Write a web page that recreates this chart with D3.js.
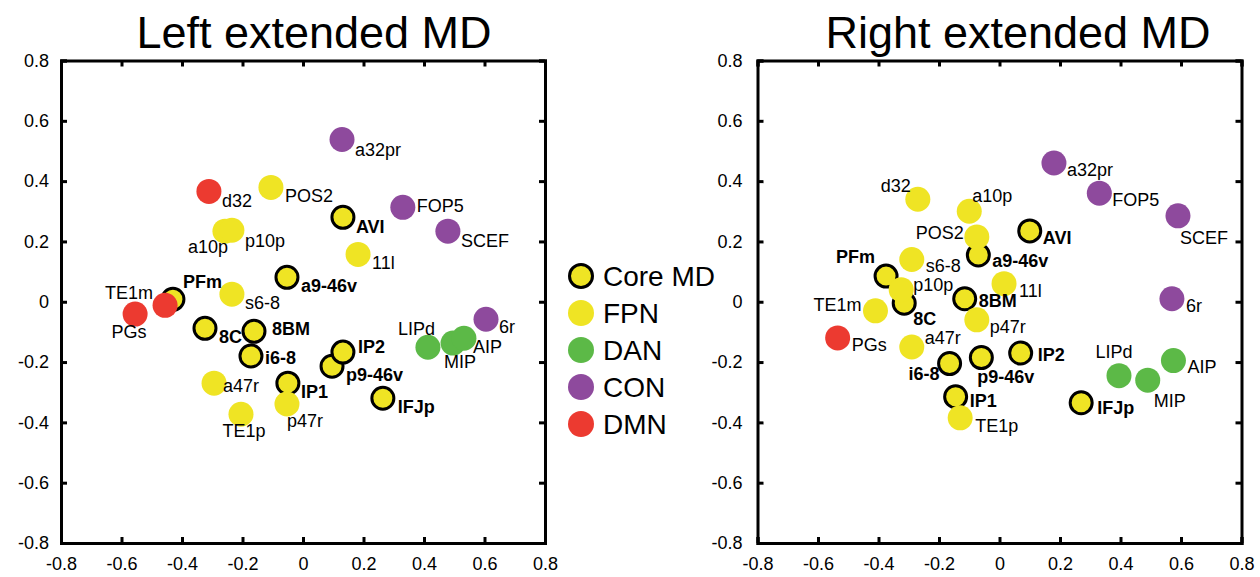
<!DOCTYPE html>
<html>
<head>
<meta charset="utf-8">
<script src="https://cdn.jsdelivr.net/npm/d3@7"></script>
<style>
  body { margin: 0; background: #fff; }
  text { font-family: "Liberation Sans", Arial, sans-serif; }
</style>
</head>
<body>
<div class="canvas"></div>
<script>
// region names, core MD first so the network dots sit on top of them
const regions = [
  "AVI", "a9-46v", "PFm", "8C", "8BM", "i6-8", "p9-46v", "IP2", "IP1", "IFJp",
  "a32pr", "d32", "POS2", "FOP5", "SCEF", "a10p", "p10p", "11l", "s6-8",
  "TE1m", "PGs", "LIPd", "MIP", "AIP", "6r", "a47r", "p47r", "TE1p"
];

const leftNetwork = [
  "Core MD", "Core MD", "Core MD", "Core MD", "Core MD", "Core MD", "Core MD", "Core MD", "Core MD", "Core MD",
  "CON", "DMN", "FPN", "CON", "CON", "FPN", "FPN", "FPN", "FPN",
  "DMN", "DMN", "DAN", "DAN", "DAN", "CON", "FPN", "FPN", "FPN"
];
const rightNetwork = [
  "Core MD", "Core MD", "Core MD", "Core MD", "Core MD", "Core MD", "Core MD", "Core MD", "Core MD", "Core MD",
  "CON", "FPN", "FPN", "CON", "CON", "FPN", "FPN", "FPN", "FPN",
  "FPN", "DMN", "DAN", "DAN", "DAN", "CON", "FPN", "FPN", "FPN"
];

const leftX = [
  0.132, -0.053, -0.43, -0.324, -0.162, -0.172, 0.096, 0.132, -0.05, 0.264,
  0.129, -0.311, -0.106, 0.33, 0.479, -0.258, -0.235, 0.182, -0.235,
  -0.456, -0.555, 0.413, 0.496, 0.532, 0.605, -0.294, -0.053, -0.205
];
const leftY = [
  0.28, 0.081, 0.008, -0.088, -0.098, -0.18, -0.214, -0.167, -0.27, -0.32,
  0.538, 0.366, 0.379, 0.313, 0.234, 0.234, 0.237, 0.157, 0.025,
  -0.012, -0.041, -0.151, -0.137, -0.121, -0.058, -0.27, -0.339, -0.373
];

const rightX = [
  0.10, -0.07, -0.375, -0.315, -0.115, -0.165, -0.06, 0.07, -0.145, 0.27,
  0.18, -0.27, -0.075, 0.33, 0.59, -0.10, -0.325, 0.015, -0.29,
  -0.41, -0.535, 0.395, 0.49, 0.575, 0.57, -0.29, -0.075, -0.13
];
const rightY = [
  0.235, 0.155, 0.085, -0.005, 0.01, -0.205, -0.185, -0.17, -0.315, -0.335,
  0.46, 0.34, 0.215, 0.36, 0.285, 0.30, 0.04, 0.06, 0.14,
  -0.03, -0.12, -0.245, -0.26, -0.195, 0.01, -0.15, -0.06, -0.385
];

const networks = ["Core MD", "FPN", "DAN", "CON", "DMN"];
const networkColors = ["#efe424", "#efe424", "#5cb947", "#8e4a9d", "#ec3a30"];
const tickValues = [-0.8, -0.6, -0.4, -0.2, 0, 0.2, 0.4, 0.6, 0.8];

// label placement: [anchor, dx, dy] from the dot centre
const leftLabelPos = {
  "a32pr": ["start", 13, 16], "d32": ["start", 13, 16], "POS2": ["start", 14, 15],
  "AVI": ["start", 13, 16], "FOP5": ["start", 14, 5], "SCEF": ["start", 13, 16],
  "a10p": ["end", 3, 22], "p10p": ["start", 13, 17], "11l": ["start", 14, 15],
  "a9-46v": ["start", 14, 15], "s6-8": ["start", 13, 15], "PFm": ["start", 10, -11],
  "TE1m": ["end", -12, -6], "PGs": ["middle", -6, 24], "8C": ["start", 14, 15],
  "8BM": ["start", 18, 4], "i6-8": ["start", 14, 8], "IP2": ["start", 15, 1],
  "p9-46v": ["start", 14, 15], "a47r": ["start", 9, 9], "IP1": ["start", 13, 15],
  "p47r": ["start", 0, 23], "TE1p": ["middle", 3, 23], "IFJp": ["start", 15, 15],
  "LIPd": ["end", 7, -12], "MIP": ["middle", 7, 25], "AIP": ["start", 9, 15],
  "6r": ["start", 13, 14]
};
const rightLabelPos = {
  "a32pr": ["start", 13, 13], "d32": ["end", -7, -7], "a10p": ["start", 3, -9],
  "POS2": ["end", -13, 2], "FOP5": ["start", 13, 13], "SCEF": ["start", 2, 28],
  "AVI": ["start", 13, 13], "a9-46v": ["start", 14, 12], "s6-8": ["start", 14, 12],
  "PFm": ["end", -11, -13], "p10p": ["start", 12, 1], "8C": ["start", 9, 22],
  "11l": ["start", 15, 13], "8BM": ["start", 14, 8], "TE1m": ["end", -14, 0],
  "6r": ["start", 14, 13], "p47r": ["start", 13, 13], "PGs": ["start", 14, 13],
  "a47r": ["start", 13, -3], "IP2": ["start", 17, 8], "p9-46v": ["start", -4, 25],
  "i6-8": ["end", -10, 16], "LIPd": ["middle", -5, -18], "MIP": ["start", 6, 27],
  "AIP": ["start", 14, 12], "IP1": ["start", 14, 10], "TE1p": ["start", 15, 14],
  "IFJp": ["start", 16, 11]
};

const width = 1260;
const height = 577;

const svg = d3
  .select(".canvas")
  .append("svg")
  .attr("width", width)
  .attr("height", height);

const color = d3.scaleOrdinal().domain(networks).range(networkColors);
const fmt = (d) => (d === 0 ? "0" : d3.format(".1f")(d).replace("\u2212", "-"));

function drawPanel(p) {
  const x = d3.scaleLinear().domain([-0.8, 0.8]).range([p.x0, p.x1]);
  const y = d3.scaleLinear().domain([-0.8, 0.8]).range([p.y1, p.y0]);

  const g = svg.append("g");

  g.append("text")
    .attr("x", p.titleX)
    .attr("y", 48)
    .attr("text-anchor", "middle")
    .attr("fill", "black")
    .style("font-size", "45px")
    .text(p.title);

  const bottom = g.append("g")
    .attr("transform", `translate(0, ${p.y1})`)
    .call(d3.axisBottom(x).tickValues(tickValues).tickSize(-6).tickPadding(14).tickFormat(fmt));

  const top = g.append("g")
    .attr("transform", `translate(0, ${p.y0})`)
    .call(d3.axisTop(x).tickValues(tickValues).tickSize(-6).tickFormat(""));

  const left = g.append("g")
    .attr("transform", `translate(${p.x0}, 0)`)
    .call(d3.axisLeft(y).tickValues(tickValues).tickSize(-6).tickPadding(p.yPad).tickFormat(fmt));

  const right = g.append("g")
    .attr("transform", `translate(${p.x1}, 0)`)
    .call(d3.axisRight(y).tickValues(tickValues).tickSize(-6).tickFormat(""));

  [bottom, top, left, right].forEach((a) => {
    a.select(".domain").attr("stroke", "black").attr("stroke-width", 3);
    a.selectAll(".tick line").attr("stroke", "black").attr("stroke-width", 3);
    a.selectAll(".tick text")
      .attr("fill", "black")
      .style("font-size", "18px")
      .style("font-family", '"Liberation Sans", Arial, sans-serif');
  });

  const data = regions.map((name, i) => ({
    name: name,
    net: p.net[i],
    x: p.xs[i],
    y: p.ys[i],
  }));

  g.append("g")
    .selectAll("circle")
    .data(data)
    .enter()
    .append("circle")
    .attr("cx", (d) => x(d.x))
    .attr("cy", (d) => y(d.y))
    .attr("r", (d) => (d.net === "Core MD" ? 11 : 12.5))
    .attr("fill", (d) => color(d.net))
    .attr("stroke", (d) => (d.net === "Core MD" ? "black" : "none"))
    .attr("stroke-width", 3);

  g.append("g")
    .selectAll("text")
    .data(data)
    .enter()
    .append("text")
    .attr("x", (d) => x(d.x) + p.labels[d.name][1])
    .attr("y", (d) => y(d.y) + p.labels[d.name][2])
    .attr("text-anchor", (d) => p.labels[d.name][0])
    .attr("fill", "black")
    .style("font-size", "18px")
    .style("font-weight", (d) => (d.net === "Core MD" ? "bold" : "normal"))
    .text((d) => d.name);
}

drawPanel({
  title: "Left extended MD", titleX: 314,
  x0: 61, x1: 545, y0: 60.5, y1: 543, yPad: 12,
  net: leftNetwork, xs: leftX, ys: leftY, labels: leftLabelPos,
});

drawPanel({
  title: "Right extended MD", titleX: 1018,
  x0: 757.5, x1: 1241.5, y0: 60.5, y1: 543, yPad: 15,
  net: rightNetwork, xs: rightX, ys: rightY, labels: rightLabelPos,
});

// legend
const legend = svg
  .append("g")
  .selectAll("g")
  .data(networks)
  .enter()
  .append("g")
  .attr("transform", (d, i) => `translate(581, ${276 + i * 37})`);

legend
  .append("circle")
  .attr("r", (d) => (d === "Core MD" ? 11.5 : 13))
  .attr("fill", (d) => color(d))
  .attr("stroke", (d) => (d === "Core MD" ? "black" : "none"))
  .attr("stroke-width", 3);

legend
  .append("text")
  .attr("x", 22)
  .attr("dy", "0.35em")
  .attr("fill", "black")
  .style("font-size", "28px")
  .text((d) => d);
</script>
</body>
</html>
